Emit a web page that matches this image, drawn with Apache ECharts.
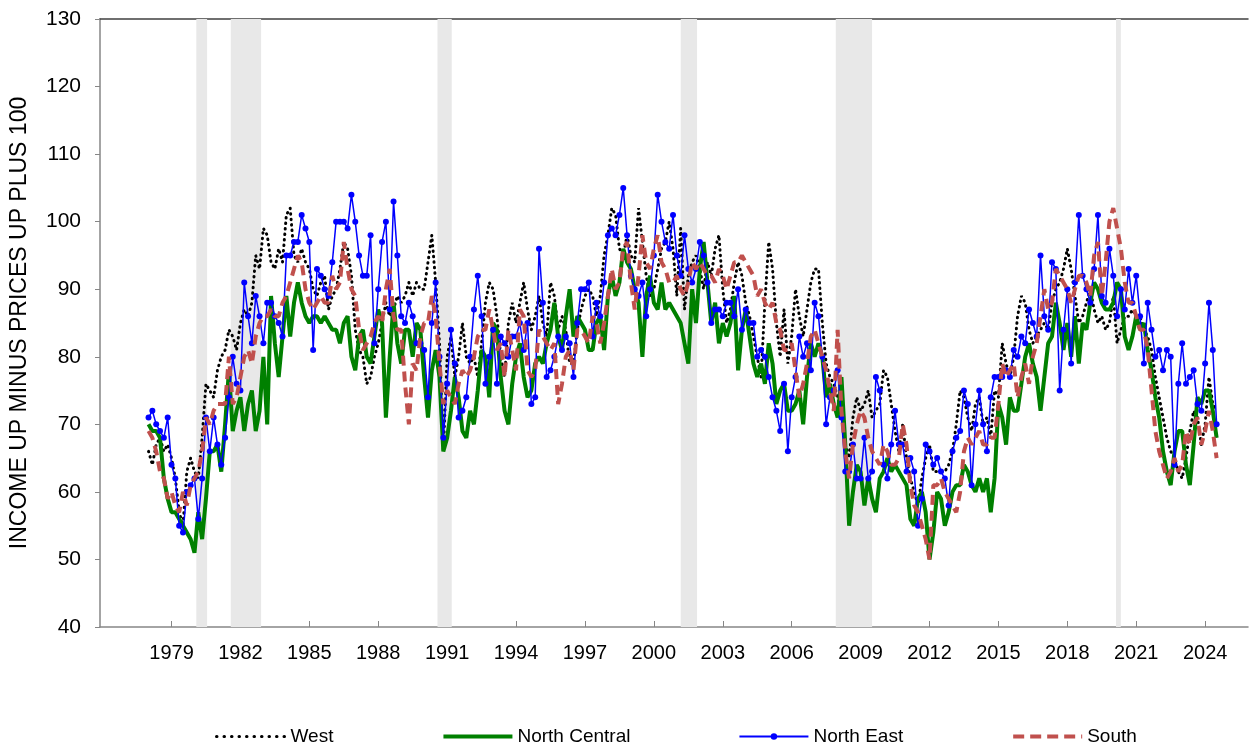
<!DOCTYPE html>
<html>
<head>
<meta charset="utf-8">
<title>Income up minus prices up plus 100, by region</title>
<script src="https://cdn.jsdelivr.net/npm/echarts@6/dist/echarts.min.js"></script>
<style>
  html, body { margin: 0; padding: 0; background: #fff; }
  #chart { width: 1250px; height: 743px; }
</style>
</head>
<body>
<div id="chart"></div>
<script>
// readings every two months (Jan, Mar, May, Jul, Sep, Nov), from Jan 1978
var startYear = 1978;
var stepMonths = 2;

var west = [
  66, 64, 67, 68, 66, 67,   // 1978
  65, 62, 57, 55, 63, 65,
  63, 62, 68, 76, 75, 74,   // 1980
  78, 80, 81, 84, 83, 81,
  85, 87, 86, 88, 95, 93,
  99, 98, 94, 93, 96, 94,
  101, 102, 95, 94, 96, 94,
  93, 90, 89, 91, 92, 87,   // 1985
  89, 90, 93, 97, 96, 92,
  84, 81, 80, 76, 77, 80,
  82, 85, 88, 86, 87, 89,
  88, 89, 91, 89, 91, 90,
  90, 94, 98, 91, 82, 66,   // 1990
  80, 83, 77, 80, 85, 80,
  79, 80, 77, 82, 88, 91,
  90, 86, 80, 77, 85, 88,
  85, 88, 91, 87, 84, 86,
  89, 85, 83, 91, 89, 84,   // 1995
  86, 84, 79, 79, 84, 87,
  89, 90, 89, 86, 89, 95,
  98, 102, 101, 96, 95, 98,
  95, 94, 102, 97, 92, 89,
  90, 93, 96, 97, 100, 96,  // 2000
  89, 99, 87, 92, 94, 95,
  93, 90, 94, 92, 96, 98,
  90, 85, 87, 91, 94, 92,
  88, 86, 83, 80, 77, 88,
  97, 93, 85, 80, 87, 79,   // 2005
  83, 90, 86, 83, 87, 91,
  93, 93, 85, 79, 77, 76,
  74, 72, 67, 65, 71, 74,
  72, 73, 75, 71, 72, 73,
  78, 77, 73, 69, 66, 70,   // 2010
  65, 62, 60, 58, 62, 65,
  67, 63, 63, 63, 63, 64,
  66, 70, 75, 74, 71, 69,
  73, 74, 70, 71, 68, 75,
  74, 82, 79, 77, 80, 86,   // 2015
  89, 88, 84, 82, 83, 84,
  85, 84, 88, 90, 91, 93,
  96, 93, 89, 85, 86, 88,
  90, 87, 85, 86, 84, 85,
  89, 82, 84, 86, 86, 87,   // 2020
  86, 86, 84, 83, 81, 77,
  74, 71, 68, 66, 65, 63,
  62, 65, 69, 72, 71, 67,
  70, 77, 73, 72            // 2024
];

var northCentral = [
  70, 69, 69, 68, 62, 59,   // 1978
  57, 57, 56, 55, 54, 53,
  51, 57, 53, 59, 66, 66,   // 1980
  67, 63, 70, 78, 69, 72,
  74, 69, 73, 75, 69, 72,
  80, 70, 89, 82, 77, 83,
  89, 83, 88, 91, 88, 86,
  85, 86, 86, 85, 86, 85,   // 1985
  84, 84, 82, 85, 86, 80,
  78, 83, 84, 80, 79, 83,
  87, 85, 71, 80, 88, 82,
  79, 84, 84, 80, 85, 84,
  77, 71, 78, 81, 77, 66,   // 1990
  68, 72, 77, 74, 69, 68,
  72, 70, 75, 81, 80, 74,
  85, 84, 77, 72, 70, 76,
  80, 82, 77, 74, 75, 79,
  80, 79, 82, 84, 88, 83,   // 1995
  81, 86, 90, 83, 86, 85,
  84, 81, 81, 85, 86, 81,
  89, 92, 89, 91, 96, 94,
  93, 90, 88, 80, 89, 92,
  88, 87, 91, 87, 88, 87,   // 2000
  86, 85, 82, 79, 90, 85,
  93, 97, 91, 85, 88, 82,
  85, 83, 85, 89, 78, 84,
  87, 83, 79, 77, 79, 76,
  82, 79, 73, 75, 76, 72,   // 2005
  72, 73, 75, 70, 77, 82,
  80, 82, 80, 74, 76, 73,
  71, 77, 67, 55, 60, 64,
  63, 58, 62, 59, 57, 62,
  63, 65, 63, 64, 63, 62,   // 2010
  61, 56, 55, 59, 60, 57,
  50, 54, 60, 59, 55, 57,
  60, 61, 61, 64, 63, 61,
  60, 62, 60, 62, 57, 62,
  73, 71, 67, 74, 72, 72,   // 2015
  76, 80, 82, 79, 77, 72,
  77, 82, 83, 88, 85, 81,
  85, 80, 86, 79, 85, 84,
  88, 91, 90, 88, 87, 87,
  88, 91, 90, 83, 81, 83,   // 2020
  86, 84, 85, 81, 78, 74,
  71, 66, 63, 61, 66, 69,
  69, 64, 61, 67, 74, 73,
  75, 75, 72, 68            // 2024
];

var northEast = [
  71, 72, 70, 69, 68, 71,   // 1978
  64, 62, 55, 54, 60, 61,
  62, 56, 62, 71, 66, 71,   // 1980
  67, 64, 68, 74, 80, 76,
  75, 91, 86, 82, 89, 86,
  82, 88, 88, 86, 85, 83,
  95, 95, 97, 97, 101, 99,
  97, 81, 93, 92, 90, 89,   // 1985
  94, 100, 100, 100, 99, 104,
  100, 95, 92, 92, 98, 82,
  90, 97, 100, 87, 103, 95,
  86, 85, 88, 86, 82, 82,
  81, 74, 85, 91, 80, 68,   // 1990
  76, 84, 79, 71, 72, 74,
  80, 87, 92, 86, 76, 80,
  84, 76, 83, 82, 80, 83,
  83, 85, 81, 85, 73, 74,
  96, 88, 77, 78, 80, 83,   // 1995
  81, 83, 82, 77, 85, 90,
  90, 91, 83, 88, 86, 91,
  98, 99, 98, 101, 105, 98,
  92, 90, 89, 91, 86, 90,
  95, 104, 100, 97, 96, 101, // 2000
  95, 92, 98, 93, 91, 93,
  97, 95, 91, 85, 87, 87,
  86, 88, 88, 86, 90, 84,
  87, 85, 85, 80, 81, 80,
  77, 74, 72, 69, 76, 66,   // 2005
  74, 77, 83, 80, 82, 78,
  88, 86, 80, 70, 74, 75,
  78, 71, 63, 63, 67, 62,
  62, 68, 62, 63, 77, 75,
  64, 62, 67, 72, 67, 67,   // 2010
  63, 65, 63, 55, 59, 67,
  66, 64, 65, 63, 62, 58,
  66, 68, 69, 75, 73, 61,
  70, 75, 70, 66, 74, 77,
  77, 77, 78, 77, 81, 80,   // 2015
  83, 82, 87, 85, 83, 95,
  86, 84, 94, 93, 75, 84,
  90, 79, 91, 101, 92, 90,
  88, 93, 101, 89, 88, 96,
  92, 86, 90, 87, 93, 88,   // 2020
  92, 86, 79, 88, 84, 80,
  81, 78, 81, 80, 64, 76,
  82, 76, 77, 78, 73, 72,
  79, 88, 81, 70            // 2024
];

var south = [
  69, 68, 66, 63, 62, 59,   // 1978
  60, 58, 57, 60, 58, 61,
  62, 63, 66, 71, 70, 72,   // 1980
  73, 73, 73, 80, 73, 74,
  77, 80, 81, 79, 83, 85,
  86, 86, 87, 86, 86, 88,
  89, 91, 93, 95, 94, 90,
  88, 87, 88, 89, 88, 88,   // 1985
  92, 90, 91, 97, 93, 90,
  89, 84, 81, 82, 83, 85,
  86, 85, 90, 93, 86, 84,
  84, 76, 70, 79, 78, 83,
  85, 85, 89, 86, 79, 73,   // 1990
  75, 74, 73, 76, 78, 77,
  78, 80, 83, 84, 84, 87,
  84, 81, 82, 77, 84, 81,
  78, 87, 86, 78, 77, 78,
  84, 83, 82, 81, 82, 73,   // 1995
  76, 80, 81, 78, 84, 84,
  83, 82, 86, 85, 82, 85,
  89, 93, 90, 91, 96, 97,
  91, 87, 92, 98, 94, 93,
  96, 98, 94, 93, 91, 91,   // 2000
  92, 90, 89, 91, 94, 93,
  94, 93, 92, 92, 91, 93,
  92, 90, 92, 94, 94, 95,
  94, 93, 92, 89, 90, 88,
  87, 88, 85, 84, 81, 81,   // 2005
  82, 78, 74, 76, 79, 83,
  84, 82, 80, 78, 75, 72,
  84, 72, 66, 62, 67, 70,
  72, 71, 68, 66, 65, 64,
  67, 66, 64, 64, 65, 70,   // 2010
  67, 61, 58, 57, 55, 53,
  50, 61, 61, 62, 60, 59,
  58, 57, 60, 66, 68, 67,
  68, 69, 67, 67, 68, 68,
  73, 79, 77, 78, 79, 74,   // 2015
  77, 79, 76, 80, 82, 86,
  90, 87, 88, 93, 92, 91,
  90, 88, 90, 92, 92, 91,
  89, 95, 97, 89, 94, 100,
  102, 99, 96, 91, 88, 88,  // 2020
  86, 84, 84, 81, 75, 69,
  66, 64, 62, 63, 65, 63,
  64, 69, 67, 70, 71, 67,
  69, 72, 69, 65            // 2024
];

var yearTicks = [1979, 1982, 1985, 1988, 1991, 1994, 1997, 2000, 2003, 2006, 2009, 2012, 2015, 2018, 2021, 2024];

// shaded recession spans, in decimal years
var recessions = [
  [1980.08, 1980.55],
  [1981.58, 1982.90],
  [1990.58, 1991.20],
  [2001.17, 2001.88],
  [2007.92, 2009.50],
  [2020.12, 2020.33]
];

var FONT = "'Liberation Sans', Arial, sans-serif";
var X_MIN = 1975.887, X_MAX = 2025.866;

function toPairs(values) {
  return values.map(function (v, i) {
    return [startYear + i * stepMonths / 12, v];
  });
}

var chart = echarts.init(document.getElementById('chart'));

chart.setOption({
  animation: false,
  backgroundColor: '#fff',
  textStyle: { fontFamily: FONT },
  grid: { left: 100, right: 2, top: 19, bottom: 116 },
  legend: {
    data: [
      { name: 'West', itemStyle: { opacity: 0 }, lineStyle: { width: 3, type: [0.5, 7], cap: 'round' } },
      { name: 'North Central', itemStyle: { opacity: 0 }, lineStyle: { width: 4 } },
      { name: 'North East' },
      { name: 'South', itemStyle: { opacity: 0 }, lineStyle: { width: 4, type: [11, 6] } }
    ],
    left: 210,
    top: 722,
    itemWidth: 69,
    itemHeight: 8,
    itemGap: 108,
    textStyle: { fontSize: 19, color: '#000', fontFamily: FONT }
  },
  xAxis: [{
    type: 'value',
    min: X_MIN,
    max: X_MAX,
    axisLine: { onZero: false, lineStyle: { color: '#868686', width: 1.5 } },
    axisTick: { inside: true, length: 6, customValues: yearTicks, lineStyle: { color: '#868686' } },
    axisLabel: {
      customValues: yearTicks,
      fontSize: 20,
      color: '#000',
      margin: 16,
      formatter: function (v) { return String(Math.round(v)); }
    },
    splitLine: { show: false }
  }, {
    // top frame line
    type: 'value',
    position: 'top',
    min: X_MIN,
    max: X_MAX,
    axisLine: { show: true, onZero: false, lineStyle: { color: '#404040', width: 1.5 } },
    axisTick: { show: false },
    axisLabel: { show: false },
    splitLine: { show: false }
  }],
  yAxis: {
    type: 'value',
    min: 40,
    max: 130,
    interval: 10,
    name: 'INCOME UP MINUS PRICES UP PLUS 100',
    nameLocation: 'middle',
    nameRotate: 90,
    nameGap: 69,
    nameTextStyle: { fontSize: 23, color: '#000', fontFamily: FONT },
    axisLine: { show: true, lineStyle: { color: '#868686', width: 1.5 } },
    axisTick: { show: true, length: 5, lineStyle: { color: '#868686' } },
    axisLabel: { fontSize: 21, color: '#000', margin: 19 },
    splitLine: { show: false }
  },
  series: [{
    name: 'recessions',
    type: 'line',
    data: [],
    z: 1,
    silent: true,
    markArea: {
      silent: true,
      itemStyle: { color: '#e8e8e8' },
      data: recessions.map(function (r) { return [{ xAxis: r[0] }, { xAxis: r[1] }]; })
    }
  }, {
    name: 'West',
    type: 'line',
    data: toPairs(west),
    z: 2,
    symbol: 'none',
    itemStyle: { color: '#000' },
    lineStyle: { color: '#000', width: 3, type: [0.5, 5], cap: 'round' }
  }, {
    name: 'North Central',
    type: 'line',
    data: toPairs(northCentral),
    z: 3,
    symbol: 'none',
    itemStyle: { color: '#008000' },
    lineStyle: { color: '#008000', width: 4 }
  }, {
    name: 'North East',
    type: 'line',
    data: toPairs(northEast),
    z: 4,
    symbol: 'circle',
    symbolSize: 6,
    showAllSymbol: true,
    itemStyle: { color: '#0000ff' },
    lineStyle: { color: '#0000ff', width: 1.5 }
  }, {
    name: 'South',
    type: 'line',
    data: toPairs(south),
    z: 5,
    symbol: 'none',
    itemStyle: { color: '#c0504d' },
    lineStyle: { color: '#c0504d', width: 4, type: [10, 6] }
  }]
});
</script>
</body>
</html>
